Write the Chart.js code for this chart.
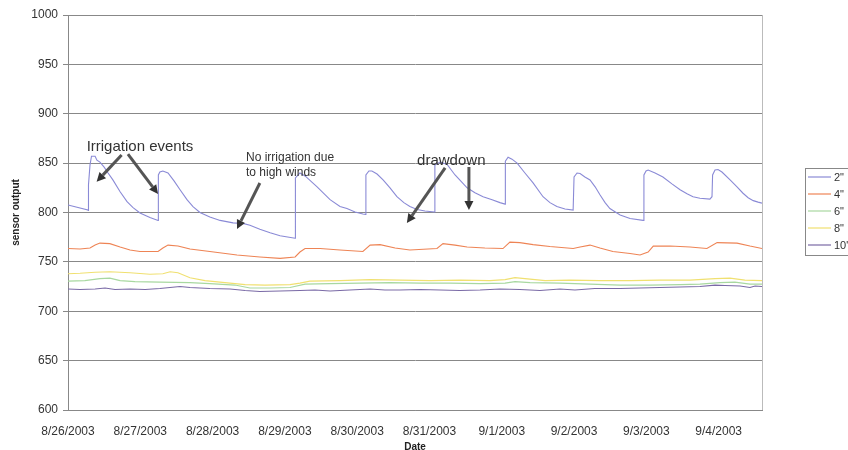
<!DOCTYPE html>
<html>
<head>
<meta charset="utf-8">
<script src="https://cdn.jsdelivr.net/npm/chart.js@4/dist/chart.umd.min.js"></script>
<style>
html,body{margin:0;padding:0;background:#fff;overflow:hidden;}
#wrap{width:848px;height:450px;position:relative;overflow:hidden;}
</style>
</head>
<body>
<div id="wrap"><canvas id="c" width="848" height="450"></canvas></div>
<script>
// x values: hours since 8/26/2003 00:00
const tickHours = [0, 24, 48, 72, 96, 120, 144, 168, 192, 216];
const tickLabels = ['8/26/2003','8/27/2003','8/28/2003','8/29/2003','8/30/2003','8/31/2003','9/1/2003','9/2/2003','9/3/2003','9/4/2003'];
const seriesNames = ['2"', '4"', '6"', '8"', '10"'];

const hours2 = [0,6.6,6.7,6.8,7.3,7.8,9.0,9.6,10.6,12.0,13.3,14.9,17.3,19.6,21.6,23.9,27.2,29.9,30.0,30.5,31.5,33.2,35.2,37.2,39.5,41.5,43.8,47.1,50.5,54.8,58.1,60.4,63.7,67.1,70.4,75.4,75.5,76.4,77.0,78.7,82.7,87.0,90.3,92.6,95.3,97.9,98.8,98.9,99.9,100.9,102.6,104.6,106.9,109.2,111.5,113.5,115.9,118.5,121.7,121.8,123.5,125.8,128.5,132.5,135.1,137.8,140.8,143.4,145.1,145.2,146.1,147.4,149.1,151.7,154.4,157.7,160.0,162.3,165.0,167.7,168.0,169.0,170.0,171.6,173.3,175.0,176.6,178.3,179.9,183.3,186.6,190.9,191.2,191.9,192.6,194.9,197.5,200.5,203.2,205.5,207.5,209.8,213.1,213.8,214.0,214.8,215.8,217.1,219.8,222.1,224.1,225.8,227.5,229.1,230.4];
const vals2 = [807.6,802.5,802,828,848,857,857,853,851,846,840,833,821,811,805,799.5,795,792,838,841,842,840,832,823,813,806,800,795.5,792,789.5,789,787,783,779.5,776.5,774,835,838,840,837,826,813,806,804,800.5,798.5,798,838,842,842,839,833,825,816,810,806,803,801.5,800.5,848,851,849,838,825,820,816,813,810,808.5,852,856,854,850,840,830,816,810,806,803.5,802.5,836,840,839.5,836,833,826,818,810,804,797.5,794,792,838,842,843,840,836,829,823,819,816,814.5,813.5,816,838,843,843.5,841,833,826,819.5,815,812,810.5,809.5];

const hours4 = [0,4.0,7.3,9.0,10.6,13.9,17.3,20.6,23.9,29.9,31.5,33.2,36.5,40.5,47.1,56.1,63.7,70.4,75.4,77.0,78.7,83.7,90.3,97.9,100.3,103.6,108.6,113.5,122.5,124.5,128.5,132.5,138.4,144.4,146.7,150.0,154.4,160.0,167.7,170.0,173.3,176.6,180.9,186.6,189.9,192.6,194.3,199.9,206.5,212.1,215.5,222.1,226.4,230.4];
const vals4 = [763.5,763,764,767,769,768.5,765,762,760.5,760.5,764,767,766,763,760.5,757,755,753.5,755,760,763.5,763.5,762,760.5,767,767.5,764,762,763.5,768.5,767,765,764,763.5,770,769.5,767.5,765.5,763.5,765,767,764,760.5,758.5,757,760,766,766,765,763.5,769.5,769,766,763.5];

const hours6 = [0,5.6,10.6,13.9,17.3,22.2,30.5,40.5,47.1,55.4,60.4,67.1,73.7,78.7,87.0,96.9,106.9,116.9,126.8,136.8,145.1,148.4,153.4,163.3,173.3,183.3,193.2,203.2,209.8,216.4,221.4,226.4,230.4];
const vals6 = [730.5,731,733,733.5,731,730,729.5,729,728,726.5,723.5,723.5,724,727.5,728,728.5,729,728.5,728.5,728,728.5,730,729,728.5,727.5,726.5,726.5,727,727.5,729,729.5,727.5,727.5];

const hours8 = [0,4.0,9.0,13.9,20.6,27.2,31.5,33.9,36.5,40.5,45.5,52.1,58.8,65.4,73.7,77.0,80.3,90.3,100.3,110.2,120.2,130.1,140.1,145.1,148.4,151.7,158.4,166.6,176.6,186.6,196.5,206.5,214.8,219.8,224.7,230.4];
const vals8 = [738,738.5,739.5,740,739,737.5,738,740,739,734,731,729,727,726.5,727,728.5,730.5,731,732,731.5,731,731.5,731,732,734,733,731,731.5,731,731,731.5,731.5,733,733.5,731.5,731];

const hours10 = [0,4.0,9.0,12.3,15.6,20.6,25.6,30.5,37.2,40.5,47.1,53.8,58.8,63.7,70.4,77.0,82.0,87.0,93.6,100.3,105.2,110.2,116.9,123.5,130.1,136.8,143.4,150.0,156.7,163.3,168.3,174.9,183.3,189.9,196.5,203.2,209.8,214.8,218.1,223.1,226.4,228.1,230.4];
const vals10 = [722.5,722,722.5,723.5,722,722.5,722,723,725,724,723,722.5,721,720,720.5,721,721.5,720.5,721.5,722.5,721.5,721.5,722,721.5,721,721.5,722.5,722,721,722.5,721.5,723,723,723.5,724,724.5,725,726.5,726,725.5,724,725.5,725];

const seriesColors = ['#8a8ad6', '#ee8455', '#a8d8a0', '#f0e070', '#7a6aa6'];

// annotations in data coordinates (hours, sensor output)
const annoTexts = [
  {text: 'Irrigation events', h: 23.9, v: 866.3, size: 15, align: 'center'},
  {text: 'No irrigation due', h: 59.1, v: 855.2, size: 12, align: 'left'},
  {text: 'to high winds', h: 59.1, v: 840.3, size: 12, align: 'left'},
  {text: 'drawdown', h: 115.9, v: 852.2, size: 15, align: 'left'}
];
const annoArrows = [
  [17.8, 858.2, 9.5, 831.2],
  [19.9, 859.2, 29.9, 818.7],
  [63.7, 829.9, 56.1, 783.3],
  [125.2, 845.1, 112.5, 789.4],
  [133.1, 846.1, 133.1, 802.5]
];

function pts(hs, vs) { return hs.map((h, i) => ({x: h, y: vs[i]})); }
const allData = [pts(hours2, vals2), pts(hours4, vals4), pts(hours6, vals6), pts(hours8, vals8), pts(hours10, vals10)];

const FONT = '"Liberation Sans", Arial, sans-serif';

function drawArrow(ctx, x1, y1, x2, y2) {
  const ang = Math.atan2(y2 - y1, x2 - x1);
  const hl = 9, hw = 4.5;
  const bx = x2 - hl * Math.cos(ang), by = y2 - hl * Math.sin(ang);
  ctx.save();
  ctx.strokeStyle = '#555';
  ctx.lineWidth = 3;
  ctx.beginPath(); ctx.moveTo(x1, y1); ctx.lineTo(bx, by); ctx.stroke();
  ctx.fillStyle = '#333';
  ctx.beginPath();
  ctx.moveTo(x2, y2);
  ctx.lineTo(bx + hw * Math.sin(ang), by - hw * Math.cos(ang));
  ctx.lineTo(bx - hw * Math.sin(ang), by + hw * Math.cos(ang));
  ctx.closePath(); ctx.fill();
  ctx.restore();
}

const extras = {
  id: 'extras',
  afterDraw(chart) {
    const ctx = chart.ctx, a = chart.chartArea;
    const xs = chart.scales.x, ys = chart.scales.y;
    ctx.save();
    // right border of plot
    ctx.strokeStyle = '#bbb'; ctx.lineWidth = 1;
    ctx.beginPath(); ctx.moveTo(Math.round(a.right) + 0.5, a.top); ctx.lineTo(Math.round(a.right) + 0.5, a.bottom); ctx.stroke();
    // annotations
    ctx.fillStyle = '#333';
    ctx.textBaseline = 'middle';
    annoTexts.forEach(t => {
      ctx.font = t.size + 'px ' + FONT;
      ctx.textAlign = t.align;
      ctx.fillText(t.text, xs.getPixelForValue(t.h), ys.getPixelForValue(t.v));
    });
    annoArrows.forEach(r => drawArrow(ctx, xs.getPixelForValue(r[0]), ys.getPixelForValue(r[1]), xs.getPixelForValue(r[2]), ys.getPixelForValue(r[3])));
    // legend
    const lx = 805.5, ly = 168.5;
    ctx.strokeStyle = '#888'; ctx.lineWidth = 1;
    ctx.strokeRect(lx, ly, 60, 87);
    ctx.font = '11px ' + FONT;
    ctx.textAlign = 'left';
    seriesNames.forEach((n, i) => {
      const y = 177 + 17 * i;
      ctx.strokeStyle = seriesColors[i]; ctx.lineWidth = 1.2;
      ctx.beginPath(); ctx.moveTo(808, y); ctx.lineTo(831, y); ctx.stroke();
      ctx.fillStyle = '#333';
      ctx.fillText(n, 834, y + 1);
    });
    ctx.restore();
  }
};

new Chart(document.getElementById('c'), {
  type: 'line',
  data: {
    datasets: seriesNames.map((n, i) => ({
      label: n,
      data: allData[i],
      borderColor: seriesColors[i],
      backgroundColor: seriesColors[i],
      borderWidth: 1.1,
      pointRadius: 0,
      tension: 0,
      fill: false
    }))
  },
  options: {
    responsive: false,
    animation: false,
    events: [],
    layout: {padding: {top: 15, right: 86, left: 0, bottom: 0}},
    plugins: {legend: {display: false}, tooltip: {enabled: false}},
    scales: {
      x: {
        type: 'linear',
        min: 0,
        max: 230.4,
        afterBuildTicks: s => { s.ticks = tickHours.map(v => ({value: v})); },
        afterFit: s => { s.height = 40; },
        grid: {display: false},
        border: {display: true, color: '#888'},
        ticks: {
          autoSkip: false, maxRotation: 0, minRotation: 0, padding: 6,
          color: '#333', font: {family: FONT, size: 12},
          callback: (v, i) => tickLabels[i]
        },
        title: {display: true, text: 'Date', color: '#222', font: {family: FONT, size: 10, weight: 'bold'}, padding: {top: 0, bottom: -3}}
      },
      y: {
        min: 600,
        max: 1000,
        afterFit: s => { s.width = 68; },
        grid: {color: '#888', lineWidth: 1, tickLength: 5},
        border: {display: true, color: '#888'},
        ticks: {stepSize: 50, padding: 5, color: '#333', font: {family: FONT, size: 12}, callback: v => String(v)},
        title: {display: true, text: 'sensor output', color: '#222', font: {family: FONT, size: 10, weight: 'bold'}, padding: {top: 10, bottom: 0}}
      }
    }
  },
  plugins: [extras]
});
</script>
</body>
</html>
